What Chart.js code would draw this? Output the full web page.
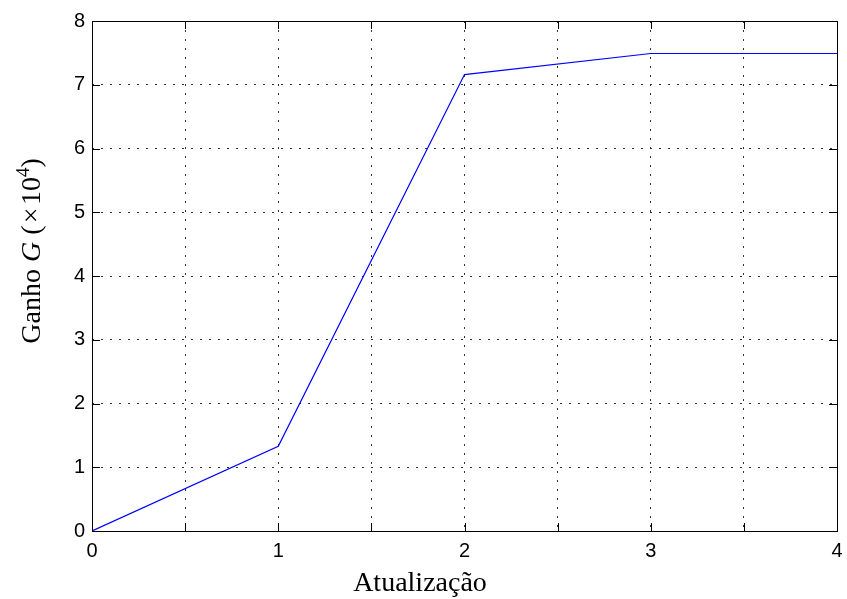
<!DOCTYPE html>
<html>
<head>
<meta charset="utf-8">
<script src="https://cdn.jsdelivr.net/npm/chart.js@4.4.0/dist/chart.umd.min.js"></script>
<style>
  html, body { margin: 0; padding: 0; background: #fff; }
  #wrap { width: 847px; height: 599px; }
</style>
</head>
<body>
<div id="wrap"><canvas id="ganhoChart"></canvas></div>
<script>
// dados
const atualizacoes = [0, 1, 2, 3, 4];
const ganho = [0, 1.33, 7.16, 7.49, 7.49];
const xLabels = ['0', '1', '2', '3', '4'];
const yLabels = ['0', '1', '2', '3', '4', '5', '6', '7', '8'];

const serif = '"Liberation Serif", "Times New Roman", serif';
const sans = '"Liberation Sans", Arial, sans-serif';

// caixa, marcas internas e títulos dos eixos (estilo MATLAB)
const matlabAxes = {
    id: 'matlabAxes',
    afterDraw(chart) {
        const { ctx, chartArea: a, scales } = chart;
        const tick = 8;
        ctx.save();
        ctx.strokeStyle = '#000';
        ctx.lineWidth = 1;
        ctx.beginPath();
        scales.x.ticks.forEach(t => {
            const px = Math.round(scales.x.getPixelForValue(t.value)) + 0.5;
            ctx.moveTo(px, a.bottom); ctx.lineTo(px, a.bottom - tick);
            ctx.moveTo(px, a.top); ctx.lineTo(px, a.top + tick);
        });
        scales.y.ticks.forEach(t => {
            const py = Math.round(scales.y.getPixelForValue(t.value)) + 0.5;
            ctx.moveTo(a.left, py); ctx.lineTo(a.left + tick, py);
            ctx.moveTo(a.right, py); ctx.lineTo(a.right - tick, py);
        });
        ctx.stroke();
        ctx.strokeRect(Math.round(a.left) + 0.5, Math.round(a.top) + 0.5,
            Math.round(a.right - a.left), Math.round(a.bottom - a.top));

        // título x
        ctx.fillStyle = '#000';
        ctx.font = '28px ' + serif;
        ctx.textAlign = 'center';
        ctx.textBaseline = 'alphabetic';
        ctx.fillText('Atualização', 420, 591);

        // título y: Ganho G (×10^4)
        const parts = [
            { t: 'Ganho ', f: '28px ' + serif, dy: 0 },
            { t: 'G', f: 'italic 28px ' + serif, dy: 0 },
            { t: ' (\u200a×\u200a10', f: '28px ' + serif, dy: 0 },
            { t: '4', f: '19px ' + serif, dy: -11 },
            { t: ')', f: '28px ' + serif, dy: 0 }
        ];
        let total = 0;
        parts.forEach(p => { ctx.font = p.f; p.w = ctx.measureText(p.t).width; total += p.w; });
        ctx.translate(40, 251);
        ctx.rotate(-Math.PI / 2);
        ctx.textAlign = 'left';
        let x = -total / 2;
        parts.forEach(p => {
            ctx.font = p.f;
            ctx.fillText(p.t, x, p.dy);
            x += p.w;
        });
        ctx.restore();
    }
};

new Chart(document.getElementById('ganhoChart'), {
    type: 'line',
    data: {
        datasets: [{
            data: atualizacoes.map((x, i) => ({ x: x, y: ganho[i] })),
            borderColor: '#0000ff',
            borderWidth: 1.2,
            pointRadius: 0,
            tension: 0,
            fill: false
        }]
    },
    options: {
        responsive: true,
        maintainAspectRatio: false,
        animation: false,
        layout: { padding: { top: 21, right: 10, left: 0, bottom: 0 } },
        plugins: { legend: { display: false }, tooltip: { enabled: false } },
        scales: {
            x: {
                type: 'linear',
                min: 0,
                max: 4,
                afterFit: s => { s.height = 68; s.paddingRight = 0; s.paddingLeft = 0; },
                ticks: {
                    stepSize: 0.5,
                    autoSkip: false,
                    maxRotation: 0,
                    padding: 8,
                    color: '#000',
                    font: { family: sans, size: 20 },
                    callback: v => Number.isInteger(v) ? xLabels[v] : ''
                },
                grid: { color: '#333', lineWidth: 1, drawTicks: false },
                border: { display: false, dash: [2, 7] }
            },
            y: {
                min: 0,
                max: 8,
                afterFit: s => { s.width = 92; s.paddingTop = 0; s.paddingBottom = 0; },
                ticks: {
                    stepSize: 1,
                    padding: 7,
                    color: '#000',
                    font: { family: sans, size: 20 },
                    callback: v => yLabels[v]
                },
                grid: { color: '#333', lineWidth: 1, drawTicks: false },
                border: { display: false, dash: [2, 7] }
            }
        }
    },
    plugins: [matlabAxes]
});
</script>
</body>
</html>
